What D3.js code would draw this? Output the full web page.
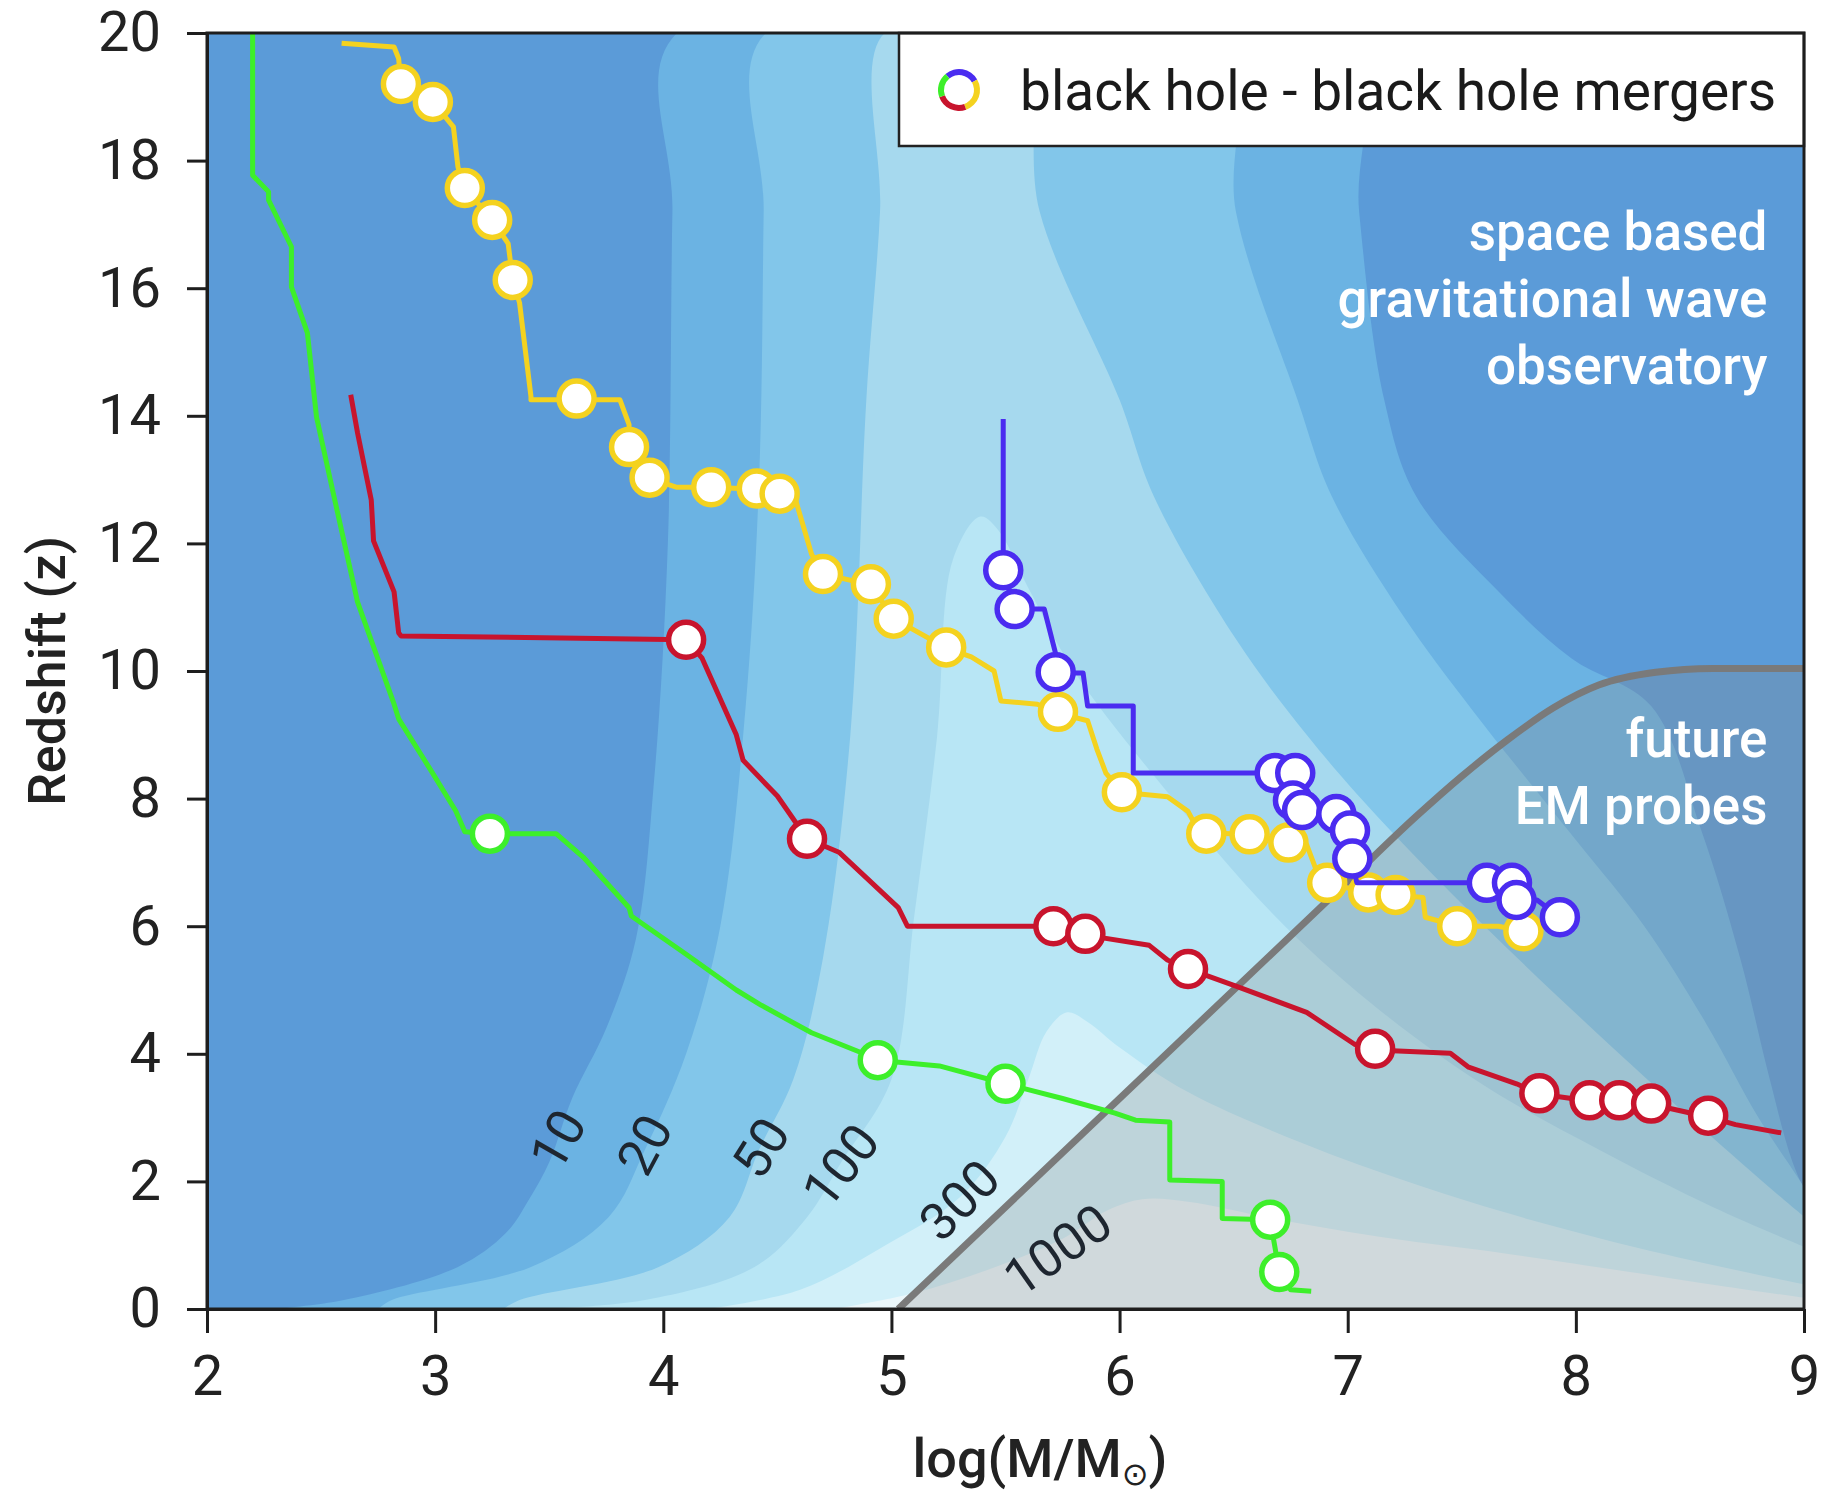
<!DOCTYPE html>
<html><head><meta charset="utf-8">
<script src="https://cdn.jsdelivr.net/npm/d3@7"></script>
<style>body{margin:0;background:#fff}text{font-family:Roboto,"Liberation Sans",sans-serif}</style>
</head><body>
<svg id="chart" width="1826" height="1496"></svg>
<script>
// ---------- data ----------
const xTicks = [2,3,4,5,6,7,8,9];
const zTicks = [0,2,4,6,8,10,12,14,16,18,20];
const contourLevels = [10,20,50,100,300,1000];

// SNR contour boundaries, [log M, z]
const contour10 = [[2.3,0],[2.6,0.14],[3.1,0.66],[3.31,1.19],[3.41,1.71],[3.5,2.3],[3.6,3.3],[3.75,4.4],[3.88,5.8],[3.96,8.3],[4.02,12.0],[4.04,17.2],[4.06,20],[7.0,20],[7.05,17.2],[7.16,14.25],[7.3,12.74],[7.66,11.25],[7.98,10.2],[8.33,9.45],[8.55,7.5],[8.72,5.5],[8.85,3.6],[8.95,2.3],[9.05,1.5]];
const contour20 = [[2.75,0],[2.81,0.14],[3.42,0.66],[3.76,1.44],[3.92,2.5],[4.1,4.0],[4.25,6.0],[4.36,9.4],[4.42,13.0],[4.44,17.2],[4.45,20],[6.45,20],[6.51,17.2],[6.78,14.25],[6.93,12.74],[7.24,10.88],[7.55,9.37],[8.0,7.35],[8.3,6.0],[8.57,4.48],[8.8,3.0],[8.98,2.02],[9.05,1.6]];
const contour50 = [[3.3,0],[3.37,0.14],[3.98,0.66],[4.29,1.44],[4.42,2.5],[4.57,3.6],[4.7,5.5],[4.82,9.0],[4.89,14.25],[4.95,17.2],[4.97,20],[5.55,20],[5.65,17.2],[6.0,14.25],[6.15,12.74],[6.51,10.5],[6.82,9.0],[7.13,7.72],[7.6,6.0],[8.1,4.3],[8.5,3.0],[8.85,1.9],[9.05,1.3]];
const contour100 = [[3.45,0],[3.92,0.14],[4.40,0.66],[4.63,1.44],[4.78,2.3],[5.0,3.6],[5.1,6.16],[5.2,8.97],[5.27,11.75],[5.39,12.42],[5.47,12.2],[5.6,11.3],[5.8,10.0],[6.21,8.1],[6.67,6.2],[7.1,4.8],[7.6,3.5],[8.1,2.5],[8.6,1.6],[9.05,0.9]];
const contour300 = [[4.2,0],[4.6,0.3],[4.95,0.95],[5.3,1.75],[5.5,2.7],[5.6,3.6],[5.68,4.35],[5.77,4.65],[5.86,4.5],[6.0,4.1],[6.3,3.4],[6.8,2.6],[7.3,1.95],[7.8,1.4],[8.4,0.85],[9.05,0.35]];
const contour1000 = [[4.75,0],[5.1,0.25],[5.45,0.65],[5.75,1.1],[5.95,1.55],[6.1,1.72],[6.3,1.68],[6.7,1.4],[7.2,1.1],[7.63,0.9],[8.2,0.6],[8.66,0.35],[9.05,0.15]];
const contourLabelPos = [[3.54,2.65],[3.92,2.57],[4.43,2.52],[4.78,2.24],[5.30,1.7],[5.73,0.92]];

// future EM probes boundary
const emBoundary = [[5.03,0],[6.0,3.3],[7.0,6.7],[7.3,7.72],[7.5,8.35],[7.7,8.92],[7.9,9.42],[8.1,9.78],[8.35,9.98],[8.6,10.04],[9.0,10.04]];

// merger trees
const greenTrack = [[2.20,20.0],[2.20,17.77],[2.27,17.51],[2.27,17.38],[2.37,16.65],[2.37,16.02],[2.44,15.3],[2.48,13.98],[2.56,12.68],[2.66,11.08],[2.74,10.28],[2.82,9.48],[2.84,9.25],[2.98,8.45],[3.09,7.81],[3.13,7.48],[3.24,7.45],[3.53,7.45],[3.65,7.08],[3.85,6.29],[3.86,6.16],[4.10,5.56],[4.32,5.0],[4.43,4.76],[4.65,4.33],[4.88,4.0],[4.94,3.90],[5.21,3.81],[5.50,3.53],[5.75,3.3],[5.98,3.07],[6.07,2.96],[6.22,2.93],[6.22,2.02],[6.45,2.0],[6.45,1.42],[6.66,1.40],[6.70,0.58],[6.75,0.3],[6.84,0.28]];
const greenMergers = [[3.24,7.45],[4.94,3.90],[5.50,3.53],[6.66,1.40],[6.70,0.58]];

const redTrack = [[2.63,14.33],[2.66,13.73],[2.72,12.68],[2.73,12.04],[2.82,11.24],[2.84,10.6],[2.85,10.55],[4.10,10.49],[4.17,10.2],[4.32,9.0],[4.35,8.6],[4.50,8.04],[4.63,7.37],[4.77,7.16],[5.03,6.29],[5.07,6.0],[5.71,6.0],[5.85,5.86],[6.13,5.7],[6.21,5.47],[6.30,5.33],[6.51,5.06],[6.82,4.65],[7.03,4.15],[7.12,4.06],[7.45,4.01],[7.53,3.79],[7.74,3.53],[7.84,3.37],[8.06,3.26],[8.19,3.26],[8.33,3.21],[8.58,3.01],[8.70,2.89],[8.90,2.76]];
const redMergers = [[4.10,10.49],[4.63,7.37],[5.71,6.0],[5.85,5.88],[6.30,5.33],[7.12,4.08],[7.84,3.38],[8.06,3.27],[8.19,3.27],[8.33,3.22],[8.58,3.03]];

const yellowTrack = [[2.59,19.84],[2.82,19.78],[2.84,19.6],[2.85,19.2],[2.99,18.92],[3.08,18.53],[3.10,17.9],[3.13,17.57],[3.25,17.07],[3.32,16.7],[3.34,16.13],[3.37,15.77],[3.42,14.3],[3.42,14.25],[3.63,14.25],[3.81,14.25],[3.85,13.86],[3.85,13.51],[3.94,13.02],[4.06,12.88],[4.21,12.88],[4.41,12.85],[4.51,12.77],[4.58,12.68],[4.65,11.83],[4.70,11.52],[4.91,11.35],[5.01,10.82],[5.24,10.36],[5.35,10.22],[5.45,10.0],[5.48,9.53],[5.64,9.48],[5.73,9.34],[5.86,9.22],[5.90,8.78],[5.94,8.4],[6.01,8.1],[6.21,8.03],[6.30,7.8],[6.33,7.6],[6.38,7.46],[6.57,7.44],[6.74,7.3],[6.82,7.28],[6.86,6.9],[6.91,6.68],[7.09,6.52],[7.21,6.49],[7.33,6.45],[7.34,6.14],[7.48,6.0],[7.66,6.0],[7.77,5.92]];
const yellowMergers = [[2.85,19.2],[2.99,18.92],[3.13,17.57],[3.25,17.07],[3.34,16.13],[3.62,14.27],[3.85,13.51],[3.94,13.03],[4.21,12.88],[4.41,12.86],[4.51,12.78],[4.70,11.52],[4.91,11.36],[5.01,10.82],[5.24,10.37],[5.73,9.36],[6.01,8.1],[6.38,7.45],[6.57,7.44],[6.74,7.31],[6.91,6.68],[7.09,6.53],[7.21,6.49],[7.48,6.0],[7.77,5.92]];

const blueTrack = [[5.49,13.95],[5.49,11.58],[5.54,10.97],[5.67,10.97],[5.72,10.27],[5.71,9.97],[5.84,9.97],[5.86,9.45],[6.06,9.45],[6.06,8.4],[6.67,8.4],[6.76,8.4],[6.76,7.95],[6.80,7.8],[6.95,7.76],[7.01,7.49],[7.02,7.0],[7.04,6.68],[7.61,6.68],[7.71,6.68],[7.73,6.41],[7.83,6.41],[7.93,6.14]];
const blueMergers = [[5.49,11.58],[5.54,10.97],[5.72,9.98],[6.68,8.4],[6.77,8.4],[6.76,7.97],[6.80,7.82],[6.95,7.76],[7.01,7.5],[7.02,7.06],[7.61,6.68],[7.72,6.68],[7.74,6.41],[7.93,6.14]];

// ---------- drawing ----------
const W = 1826, H = 1496;
const m = {left:207, right:22, top:33, bottom:187};
const svg = d3.select("#chart");
const x = d3.scaleLinear().domain([2,9]).range([m.left, W-m.right]);
const y = d3.scaleLinear().domain([0,20]).range([H-m.bottom, m.top]);

const bandColors = ["#6bb3e3","#82c6ea","#a6d9ee","#b8e6f5","#d2f0f9","#ebf7fb"];
const bgColor = "#5b9bd8";

svg.append("clipPath").attr("id","plotclip").append("rect")
  .attr("x",m.left).attr("y",m.top).attr("width",W-m.left-m.right).attr("height",H-m.top-m.bottom);
const plot = svg.append("g").attr("clip-path","url(#plotclip)");

plot.append("rect").attr("x",m.left).attr("y",m.top).attr("width",W-m.left-m.right).attr("height",H-m.top-m.bottom).attr("fill",bgColor);

const smooth = d3.line().x(d=>x(d[0])).y(d=>y(d[1])).curve(d3.curveCatmullRom.alpha(0.5));
const closeBelow = p => p + `L${x(9.6)},${y(-1)}L${x(1.5)},${y(-1)}Z`;
const contours = [contour10,contour20,contour50,contour100,contour300,contour1000];
plot.selectAll("path.band").data(contours).join("path").attr("class","band")
  .attr("d", d => closeBelow(smooth(d)))
  .attr("fill", (d,i) => bandColors[i]);

// EM probes region
const emLine = d3.line().x(d=>x(d[0])).y(d=>y(d[1])).curve(d3.curveMonotoneX);
plot.append("path")
  .attr("d", emLine(emBoundary) + `L${x(9.5)},${y(10.04)}L${x(9.5)},${y(-1)}L${x(4.7)},${y(-1)}Z`)
  .attr("fill","#8a8a8a").attr("fill-opacity",0.27);
plot.append("path").attr("d", emLine(emBoundary)).attr("fill","none")
  .attr("stroke","#7a7a7a").attr("stroke-width",7);

// contour labels
const labelAngles = [-60,-62,-58,-52,-45,-35];
plot.selectAll("text.clab").data(contourLevels).join("text").attr("class","clab")
  .attr("transform",(d,i)=>`translate(${x(contourLabelPos[i][0])},${y(contourLabelPos[i][1])}) rotate(${labelAngles[i]})`)
  .attr("text-anchor","middle").attr("dominant-baseline","central")
  .attr("font-size",52).attr("fill","#1e2630").text(d=>d);

// merger trees
const track = d3.line().x(d=>x(d[0])).y(d=>y(d[1]));
const series = [
  {track:greenTrack, mergers:greenMergers, color:"#3def2a"},
  {track:redTrack, mergers:redMergers, color:"#c8142d"},
  {track:yellowTrack, mergers:yellowMergers, color:"#f4d21f"},
  {track:blueTrack, mergers:blueMergers, color:"#4a2cf0"}
];
series.forEach(s => {
  const g = plot.append("g");
  g.append("path").attr("d",track(s.track)).attr("fill","none")
    .attr("stroke",s.color).attr("stroke-width",5).attr("stroke-linejoin","round");
  g.selectAll("circle").data(s.mergers).join("circle")
    .attr("cx",d=>x(d[0])).attr("cy",d=>y(d[1])).attr("r",17.5)
    .attr("fill","#fff").attr("stroke",s.color).attr("stroke-width",5.5);
});

// annotations in plot
const anno = svg.append("g").attr("fill","#fff").attr("font-size",53).attr("font-weight",500).attr("text-anchor","end");
anno.append("text").attr("x",x(8.84)).attr("y",y(16.6)).text("space based");
anno.append("text").attr("x",x(8.84)).attr("y",y(15.55)).text("gravitational wave");
anno.append("text").attr("x",x(8.84)).attr("y",y(14.5)).text("observatory");
anno.append("text").attr("x",x(8.84)).attr("y",y(8.65)).text("future");
anno.append("text").attr("x",x(8.84)).attr("y",y(7.6)).text("EM probes");

// legend
const lg = svg.append("g");
lg.append("rect").attr("x",899).attr("y",m.top).attr("width",W-m.right-899).attr("height",113)
  .attr("fill","#fff").attr("stroke","#222").attr("stroke-width",2.5);
const arc = d3.arc().innerRadius(15).outerRadius(21);
const icon = [
  {a0:-40,a1:60,c:"#4a2cf0"},{a0:60,a1:160,c:"#f4d21f"},{a0:160,a1:250,c:"#c8142d"},{a0:250,a1:320,c:"#3def2a"}
];
lg.selectAll("path").data(icon).join("path")
  .attr("transform","translate(959,90)")
  .attr("d",d=>arc({startAngle:d.a0*Math.PI/180,endAngle:d.a1*Math.PI/180}))
  .attr("fill",d=>d.c);
lg.append("text").attr("x",1020).attr("y",110).attr("font-size",55).attr("fill","#1a1a1a")
  .text("black hole - black hole mergers");

// frame
svg.append("rect").attr("x",m.left).attr("y",m.top).attr("width",W-m.left-m.right).attr("height",H-m.top-m.bottom)
  .attr("fill","none").attr("stroke","#1e1e1e").attr("stroke-width",3);

// axes
const ax = svg.append("g").attr("transform",`translate(0,${H-m.bottom})`)
  .call(d3.axisBottom(x).tickValues(xTicks).tickSize(24).tickSizeOuter(0).tickPadding(22).tickFormat(d3.format("d")));
const ay = svg.append("g").attr("transform",`translate(${m.left},0)`)
  .call(d3.axisLeft(y).tickValues(zTicks).tickSize(20).tickSizeOuter(0).tickPadding(26).tickFormat(d3.format("d")));
[ax,ay].forEach(a=>{
  a.select(".domain").attr("stroke","#1e1e1e").attr("stroke-width",3);
  a.selectAll(".tick line").attr("stroke","#1e1e1e").attr("stroke-width",3);
  a.selectAll(".tick text").attr("font-size",56).attr("fill","#222").attr("font-family","Roboto, sans-serif");
});

// axis titles
svg.append("text").attr("transform",`translate(47,${(m.top+H-m.bottom)/2}) rotate(-90)`)
  .attr("text-anchor","middle").attr("dominant-baseline","central")
  .attr("font-size",52).attr("font-weight",500).attr("fill","#222").text("Redshift (z)");
const xt = svg.append("text").attr("x",1040).attr("y",1477).attr("text-anchor","middle")
  .attr("font-size",54).attr("font-weight",500).attr("fill","#222");
xt.append("tspan").text("log(M/M");
xt.append("tspan").attr("font-size",32).attr("dy",8).attr("font-family","DejaVu Sans").text("⊙");
xt.append("tspan").attr("dy",-8).text(")");
</script>
</body></html>
